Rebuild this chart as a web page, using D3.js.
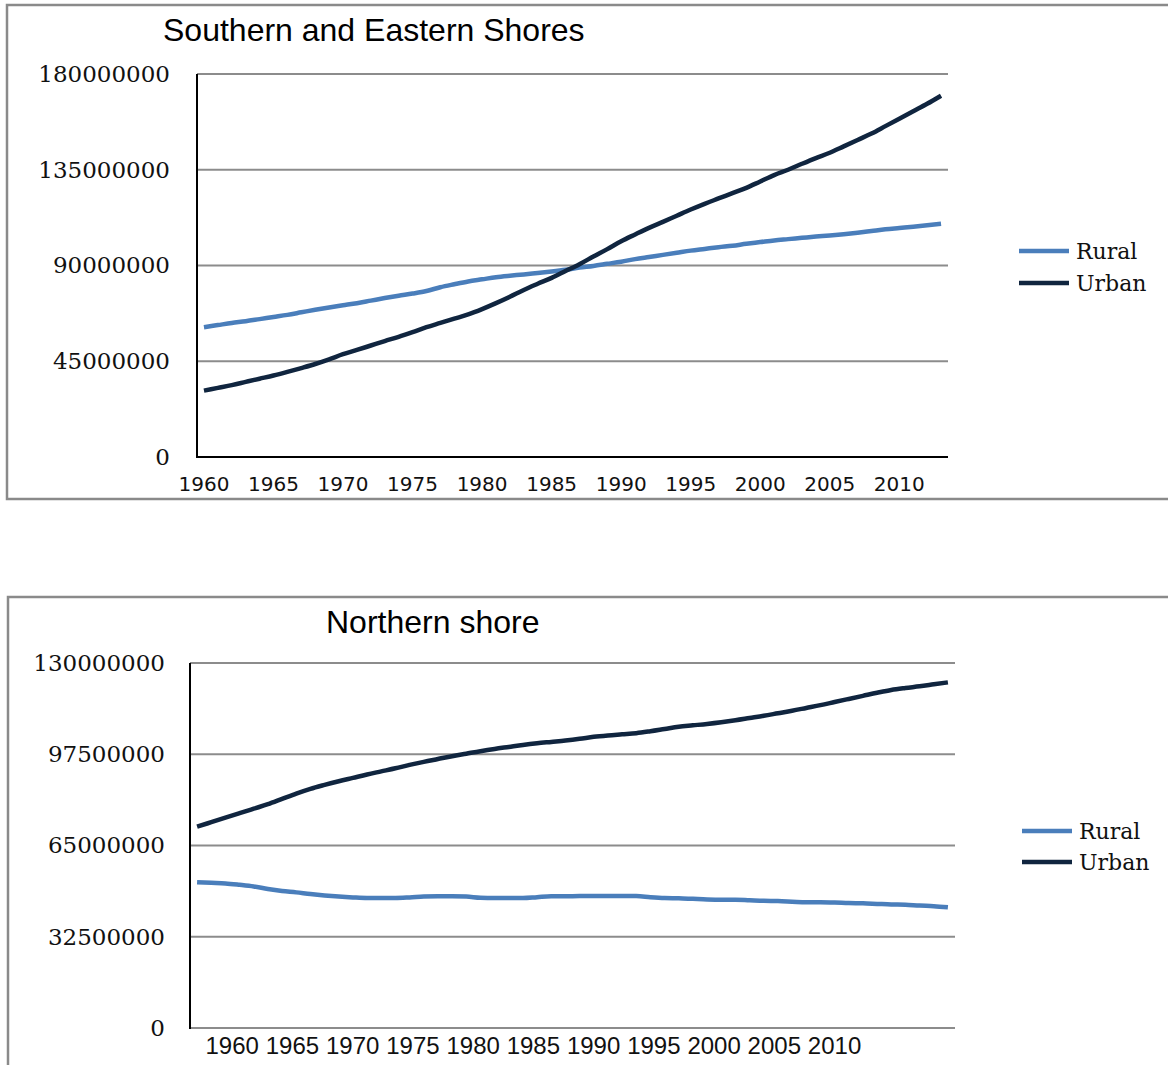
<!DOCTYPE html>
<html>
<head>
<meta charset="utf-8">
<script src="https://cdn.jsdelivr.net/npm/d3@7/dist/d3.min.js"></script>
<style>
  html, body { margin: 0; padding: 0; background: #ffffff; }
  svg { display: block; }
</style>
</head>
<body>
<svg id="chart" width="1168" height="1065"></svg>
<script>
// ---------- DATA ----------
const years = d3.range(1960, 2014); // 1960..2013

// Southern and Eastern Shores
const southRural = [
  61.0, 62.0, 63.0, 63.8, 64.8, 65.8, 66.8, 68.0, 69.2, 70.3,
  71.3, 72.3, 73.5, 74.7, 75.8, 76.8, 78.0, 79.8, 81.2, 82.5,
  83.5, 84.5, 85.2, 85.8, 86.5, 87.2, 88.0, 89.0, 89.8, 90.8,
  91.8, 93.0, 94.0, 95.0, 96.0, 97.0, 97.8, 98.6, 99.3, 100.2,
  101.0, 101.8, 102.4, 103.0, 103.6, 104.1, 104.7, 105.4, 106.2, 107.0,
  107.6, 108.2, 108.9, 109.6
].map(v => v * 1e6);
const southUrban = [
  31.2, 32.5, 33.8, 35.3, 36.8, 38.3, 40.0, 41.8, 43.7, 45.9,
  48.3, 50.3, 52.4, 54.5, 56.5, 58.7, 61.0, 63.0, 65.0, 67.0,
  69.5, 72.3, 75.3, 78.5, 81.4, 84.2, 87.4, 90.6, 94.2, 97.7,
  101.4, 104.6, 107.7, 110.5, 113.4, 116.3, 119.0, 121.5, 124.0, 126.5,
  129.5, 132.5, 135.0, 137.8, 140.5, 143.0, 146.0, 149.0, 152.0, 155.5,
  159.0, 162.5, 166.0, 169.8
].map(v => v * 1e6);

// Northern shore
const northRural = [
  51.9, 51.7, 51.5, 51.0, 50.4, 49.5, 48.8, 48.3, 47.7, 47.2,
  46.8, 46.5, 46.3, 46.3, 46.3, 46.5, 46.8, 46.9, 46.9, 46.8,
  46.4, 46.3, 46.3, 46.3, 46.6, 46.9, 46.9, 47.0, 47.0, 47.0,
  47.0, 47.0, 46.6, 46.3, 46.2, 46.0, 45.8, 45.7, 45.7, 45.5,
  45.3, 45.2, 45.0, 44.8, 44.8, 44.7, 44.5, 44.4, 44.2, 44.0,
  43.9, 43.6, 43.4, 43.0
].map(v => v * 1e6);
const northUrban = [
  71.7, 73.3, 74.9, 76.5, 78.1, 79.7, 81.6, 83.5, 85.2, 86.6,
  87.9, 89.1, 90.3, 91.4, 92.5, 93.7, 94.8, 95.8, 96.8, 97.7,
  98.6, 99.4, 100.1, 100.8, 101.4, 101.9, 102.4, 103.0, 103.7, 104.2,
  104.6, 105.0, 105.7, 106.5, 107.3, 107.8, 108.3, 108.9, 109.6, 110.4,
  111.2, 112.1, 113.0, 114.0, 115.0, 116.1, 117.2, 118.3, 119.4, 120.4,
  121.1, 121.7, 122.4, 123.1
].map(v => v * 1e6);

const southYTicks = [0, 45000000, 90000000, 135000000, 180000000];
const northYTicks = [0, 32500000, 65000000, 97500000, 130000000];
const xTickYears = [1960, 1965, 1970, 1975, 1980, 1985, 1990, 1995, 2000, 2005, 2010];
// category labels of the northern chart sit on their own (offset) category axis
const northLabelCats = d3.range(1957, 2020);

const seriesNames = ["Rural", "Urban"];
const colors = { Rural: "#4A7EBB", Urban: "#10253F" };

// ---------- DRAW ----------
const svg = d3.select("#chart");
const serif = "'DejaVu Serif', 'Liberation Serif', serif";
const sans = "'Liberation Sans', Arial, sans-serif";

function drawPanel(cfg) {
  const g = svg.append("g");
  // outer frame
  g.append("rect")
    .attr("x", cfg.frame.x).attr("y", cfg.frame.y)
    .attr("width", cfg.frame.w).attr("height", cfg.frame.h)
    .attr("fill", "none").attr("stroke", "#8a8a8a").attr("stroke-width", 2.5);

  const x = d3.scaleBand().domain(years).range([cfg.left, cfg.right]);
  const y = d3.scaleLinear().domain([0, cfg.yMax]).range([cfg.bottom, cfg.top]);

  // gridlines
  g.append("g")
    .selectAll("line").data(cfg.yTicks.filter(t => t > 0 || !cfg.blackXAxis)).join("line")
    .attr("x1", cfg.left).attr("x2", cfg.right)
    .attr("y1", d => y(d)).attr("y2", d => y(d))
    .attr("stroke", "#8c8c8c").attr("stroke-width", 2);

  // y axis labels
  const yAxis = d3.axisLeft(y).tickValues(cfg.yTicks).tickSize(0).tickPadding(cfg.yPad).tickFormat(d3.format("d"));
  const ya = g.append("g").attr("transform", `translate(${cfg.left},0)`).call(yAxis);
  ya.select(".domain").remove();
  ya.selectAll("text").attr("font-family", serif).attr("font-size", 23).attr("fill", "#111");

  // x axis (labels)
  const xLab = cfg.labelScale(x);
  const xAxis = d3.axisBottom(xLab).tickValues(xTickYears).tickSize(0).tickPadding(cfg.xPad);
  const xa = g.append("g").attr("transform", `translate(0,${cfg.bottom})`).call(xAxis);
  xa.select(".domain").remove();
  xa.selectAll("text").attr("font-family", cfg.xFont).attr("font-size", cfg.xFontSize).attr("fill", "#111");

  // axis lines
  if (cfg.blackXAxis) {
    g.append("line").attr("x1", cfg.left - 1).attr("x2", cfg.right)
      .attr("y1", cfg.bottom).attr("y2", cfg.bottom)
      .attr("stroke", "#000").attr("stroke-width", 2);
  }
  g.append("line").attr("x1", cfg.left).attr("x2", cfg.left)
    .attr("y1", cfg.top).attr("y2", cfg.bottom + 1)
    .attr("stroke", "#000").attr("stroke-width", 2);

  // lines
  const line = d3.line()
    .x((d, i) => x(years[i]) + x.bandwidth() / 2)
    .y(d => y(d))
    .curve(d3.curveMonotoneX);
  const data = { Rural: cfg.rural, Urban: cfg.urban };
  seriesNames.forEach(name => {
    g.append("path").datum(data[name])
      .attr("d", line).attr("fill", "none")
      .attr("stroke", colors[name]).attr("stroke-width", 4.5)
      .attr("stroke-linejoin", "round").attr("stroke-linecap", "butt");
  });

  // title
  g.append("text").attr("x", cfg.titleX).attr("y", cfg.titleY)
    .attr("font-family", sans).attr("font-size", 32).attr("fill", "#000")
    .text(cfg.title);

  // legend
  const leg = g.append("g");
  seriesNames.forEach((name, i) => {
    const ly = cfg.legendY + i * cfg.legendGap;
    leg.append("line").attr("x1", cfg.legendX).attr("x2", cfg.legendX + 50)
      .attr("y1", ly).attr("y2", ly)
      .attr("stroke", colors[name]).attr("stroke-width", 4.5);
    leg.append("text").attr("x", cfg.legendX + 57).attr("y", ly + 8)
      .attr("font-family", serif).attr("font-size", 22).attr("fill", "#111")
      .text(name);
  });
}

drawPanel({
  title: "Southern and Eastern Shores",
  frame: { x: 7, y: 5, w: 1180, h: 494 },
  left: 197, right: 948, top: 74, bottom: 457,
  yMax: 180000000, yTicks: southYTicks, yPad: 27, xPad: 20,
  xFont: "'DejaVu Sans', Verdana, sans-serif", xFontSize: 20,
  labelScale: x => x,
  blackXAxis: true,
  rural: southRural, urban: southUrban,
  titleX: 163, titleY: 41,
  legendX: 1019, legendY: 251, legendGap: 32
});

drawPanel({
  title: "Northern shore",
  frame: { x: 8, y: 597, w: 1180, h: 500 },
  left: 190, right: 955, top: 663, bottom: 1028,
  yMax: 130000000, yTicks: northYTicks, yPad: 25, xPad: 9,
  xFont: sans, xFontSize: 24,
  labelScale: () => d3.scaleBand().domain(northLabelCats).range([190, 949]),
  blackXAxis: false,
  rural: northRural, urban: northUrban,
  titleX: 326, titleY: 633,
  legendX: 1022, legendY: 831, legendGap: 31
});
</script>
</body>
</html>
